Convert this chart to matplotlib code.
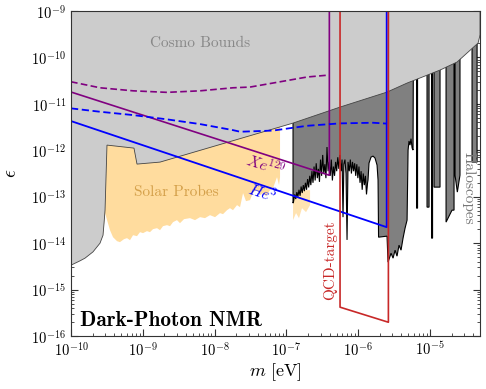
import numpy as np
import matplotlib
matplotlib.use('Agg')
import matplotlib.pyplot as plt
from matplotlib.ticker import LogLocator, FixedLocator, FuncFormatter, NullFormatter

plt.rcParams.update({
    'font.family': 'serif',
    'font.serif': ['cmr10'],
    'mathtext.fontset': 'cm',
    'axes.unicode_minus': False,
    'axes.formatter.use_mathtext': True,
})

# ---------------- data (log10 m [eV], log10 eps) ----------------
cosmo_logm = [-10.0, -10.0, -9.875, -9.805, -9.694, -9.596, -9.554, -9.540, -9.526,
              -9.499, -9.123, -9.081, -8.760, -6.908, -6.253, -5.599, -5.320,
              -4.861, -4.624, -4.485, -4.331, -4.304, -4.304]
cosmo_logeps = [-9.0, -14.474, -14.381, -14.323, -14.188, -14.0, -13.828, -13.569, -13.289,
                -11.888, -11.953, -12.297, -12.254, -11.414, -11.069, -10.746, -10.552,
                -10.272, -10.099, -9.905, -9.690, -9.517, -9.0]

solar_logm = [-9.554, -9.513, -7.089, -7.089, -7.103, -7.131, -7.187, -7.228, -7.284,
              -7.326, -7.368, -7.409, -7.465, -7.507, -7.563, -7.604, -7.646, -7.688,
              -7.744, -7.786, -7.827, -7.883, -7.925, -7.994, -8.064, -8.134, -8.203,
              -8.273, -8.343, -8.426, -8.482, -8.524, -8.579, -8.621, -8.663, -8.719,
              -8.760, -8.802, -8.858, -8.900, -8.942, -8.997, -9.039, -9.081, -9.136,
              -9.178, -9.220, -9.262, -9.318, -9.359, -9.415, -9.457, -9.526]
solar_logeps = [-13.849, -11.780, -10.918, -12.578, -12.750, -12.578, -12.815, -12.858, -12.987,
                -12.922, -12.966, -12.858, -12.901, -13.073, -13.095, -12.922, -13.224, -13.181,
                -13.289, -13.246, -13.289, -13.375, -13.353, -13.440, -13.397, -13.461, -13.440,
                -13.504, -13.461, -13.483, -13.569, -13.504, -13.547, -13.634, -13.612, -13.634,
                -13.720, -13.677, -13.698, -13.763, -13.741, -13.784, -13.763, -13.849, -13.828,
                -13.935, -13.892, -13.914, -13.978, -13.957, -13.871, -13.720, -13.353]

solar2_logm = [-6.908, -6.671, -6.671, -6.727, -6.783, -6.825, -6.866, -6.908]
solar2_logeps = [-12.858, -12.858, -13.181, -13.332, -13.246, -13.461, -13.353, -13.504]

halo_logm = [-6.908, -6.908,
             -6.900, -6.885, -6.870, -6.855, -6.840, -6.825, -6.810, -6.795, -6.780, -6.765,
             -6.750, -6.735, -6.720, -6.705, -6.690, -6.675, -6.660, -6.645, -6.630, -6.615,
             -6.600, -6.585, -6.570, -6.555, -6.540, -6.525, -6.510, -6.495, -6.480, -6.465,
             -6.450, -6.435, -6.420, -6.405, -6.390, -6.375, -6.360, -6.345, -6.330, -6.315,
             -6.300, -6.285, -6.270, -6.255, -6.240, -6.225, -6.212, -6.200, -6.185, -6.170,
             -6.156, -6.142, -6.125, -6.110, -6.095, -6.080, -6.065, -6.050, -6.035, -6.020,
             -6.005, -5.990, -5.975, -5.960, -5.945, -5.930, -5.915, -5.900, -5.885, -5.870,
             -5.864, -5.850, -5.822, -5.794, -5.766, -5.738, -5.724, -5.717, -5.599,
             -5.585, -5.543, -5.515, -5.487, -5.460, -5.432, -5.404, -5.376, -5.348,
             -5.320, -5.306, -5.293, -5.279, -5.265, -5.250, -5.237, -5.230,
             -5.188, -5.188, -5.174, -5.174,
             -5.042, -5.042, -5.014, -5.014,
             -4.979, -4.979, -4.965, -4.965,
             -4.944, -4.944, -4.861, -4.861,
             -4.777, -4.777, -4.694, -4.666, -4.666,
             -4.652, -4.652, -4.620, -4.583, -4.583,
             -4.415, -4.415, -4.345, -4.345, -4.304]
halo_logeps = [-9.0, -13.138,
               -13.10, -12.95, -13.05, -12.90, -13.00, -12.85, -12.98, -12.78, -12.92, -12.75,
               -12.88, -12.70, -12.85, -12.62, -12.80, -12.55, -12.75, -12.45, -12.70, -12.35,
               -12.65, -12.28, -12.60, -12.40, -12.68, -12.20, -12.55, -12.10, -12.50, -12.30,
               -12.60, -11.93, -12.45, -12.25, -12.55, -12.20, -12.65, -12.35, -12.55, -12.25,
               -12.45, -12.15, -12.40, -12.10, -12.45, -12.20, -13.44, -12.30, -12.20, -12.50,
               -13.93, -12.25, -12.45, -12.20, -12.50, -12.25, -12.45, -12.28, -12.55, -12.30,
               -12.60, -12.35, -12.70, -12.45, -12.85, -12.50, -12.75, -12.55, -12.95, -12.70,
               -12.642, -12.276, -12.147, -12.125, -12.168, -12.319, -12.642, -13.871, -13.849,
               -14.409, -14.216, -14.323, -14.151, -14.280, -14.043, -14.151, -13.892, -13.677,
               -13.504, -11.996, -11.80, -11.888, -11.75, -11.95, -11.996, -9.0,
               -9.0, -13.246, -13.246, -9.0,
               -9.0, -13.224, -13.224, -9.0,
               -9.0, -13.892, -13.892, -9.0,
               -9.0, -12.793, -12.793, -9.0,
               -9.0, -13.547, -13.289, -13.289, -9.0,
               -9.0, -12.534, -12.900, -12.534, -9.0,
               -9.0, -12.254, -12.254, -9.0, -9.0]

# projected sensitivities
xe_m = [1e-10, 3.96e-7, 3.96e-7]
xe_eps = [1.8e-11, 2.9e-13, 1e-9]
xe_dash_m = [1e-10, 2.54e-10, 7.31e-10, 2.17e-9, 6.27e-9, 1.80e-8, 3.11e-8, 6.50e-8, 1.94e-7, 3.96e-7]
xe_dash_eps = [2.99e-11, 2.22e-11, 1.91e-11, 1.77e-11, 1.91e-11, 2.22e-11, 2.30e-11, 2.81e-11, 3.79e-11, 4.18e-11]

he_m = [1e-10, 2.49e-6, 2.49e-6]
he_eps = [4.26e-12, 2.21e-14, 1e-9]
he_dash_m = [1e-10, 2.54e-10, 7.31e-10, 2.17e-9, 6.27e-9, 1.80e-8, 2.26e-8, 6.50e-8, 1.94e-7, 5.58e-7, 1.61e-6, 2.49e-6]
he_dash_eps = [8.0e-12, 6.76e-12, 5.74e-12, 4.64e-12, 3.67e-12, 2.72e-12, 2.51e-12, 2.66e-12, 3.37e-12, 3.80e-12, 3.92e-12, 3.76e-12]

qcd_m = [5.58e-7, 5.58e-7, 2.63e-6, 2.63e-6]
qcd_eps = [1e-9, 4.18e-16, 1.98e-16, 1e-9]

x_ticks = [1e-10, 1e-9, 1e-8, 1e-7, 1e-6, 1e-5]
y_ticks = [1e-16, 1e-15, 1e-14, 1e-13, 1e-12, 1e-11, 1e-10, 1e-9]

# ---------------- figure ----------------
fig = plt.figure(figsize=(4.86, 3.89), dpi=100)
ax = fig.add_axes([0.1461, 0.1362, 0.8416, 0.8355])
ax.set_xscale('log')
ax.set_yscale('log')

p = lambda a: 10.0 ** np.asarray(a)

ax.fill(p(solar_logm), p(solar_logeps), facecolor='#FFDC9E', edgecolor='none', zorder=1)
ax.fill(p(solar2_logm), p(solar2_logeps), facecolor='#FFDC9E', edgecolor='none', alpha=0.8, zorder=1)
ax.fill(p(halo_logm), p(halo_logeps), facecolor='#808080', edgecolor='black', lw=0.8, zorder=2)
ax.fill(p(cosmo_logm), p(cosmo_logeps), facecolor='#CCCCCC', edgecolor='#444444', lw=0.6, zorder=3)

ax.plot(xe_m, xe_eps, color='#800080', lw=1.2, zorder=5)
ax.plot(xe_dash_m, xe_dash_eps, color='#800080', lw=1.2, ls=(0, (4, 2)), zorder=5)
ax.plot(he_m, he_eps, color='#0000FF', lw=1.3, zorder=5)
ax.plot(he_dash_m, he_dash_eps, color='#0000FF', lw=1.3, ls=(0, (4, 2)), zorder=5)
ax.plot(qcd_m, qcd_eps, color='#C82828', lw=1.2, zorder=5)

ax.set_xlim(1e-10, 10 ** -4.304)
ax.set_ylim(1e-16, 1e-9)

# labels
ax.text(6.2e-9, 2.0e-10, 'Cosmo Bounds', color='#888888', fontsize=11,
        ha='center', va='center', zorder=6)
ax.text(2.9e-9, 1.26e-13, 'Solar Probes', color='#D4A04A', fontsize=11,
        ha='center', va='center', zorder=6)
ax.text(3.45e-5, 1.53e-13, 'Haloscopes', color='#777777', fontsize=11,
        ha='center', va='center', rotation=-90, zorder=6)
ax.text(4.05e-7, 4.3e-15, 'QCD-target', color='#C82828', fontsize=11,
        ha='center', va='center', rotation=90, zorder=6)
ax.text(5.2e-8, 4.7e-13, r'$Xe^{129}$', color='#800080', fontsize=11.5,
        ha='center', va='center', rotation=-18, rotation_mode='anchor', zorder=6)
ax.text(4.6e-8, 1.25e-13, r'$He^{3}$', color='#0000FF', fontsize=11.5,
        ha='center', va='center', rotation=-18, rotation_mode='anchor', zorder=6)
ax.text(0.022, 0.049, 'Dark-Photon NMR', family='cmb10', fontsize=15.3,
        ha='left', va='center', transform=ax.transAxes, zorder=6)

ax.set_xlabel(r'$m\ [\mathrm{eV}]$', fontsize=13, labelpad=2)
ax.set_ylabel(r'$\epsilon$', fontsize=14, labelpad=8)

fmt = FuncFormatter(lambda v, pos: r'$10^{%d}$' % int(round(np.log10(v))))
ax.xaxis.set_major_locator(FixedLocator(x_ticks))
ax.yaxis.set_major_locator(FixedLocator(y_ticks))
ax.xaxis.set_minor_locator(LogLocator(base=10, subs=np.arange(2, 10), numticks=50))
ax.yaxis.set_minor_locator(LogLocator(base=10, subs=np.arange(2, 10), numticks=50))
ax.xaxis.set_major_formatter(fmt)
ax.yaxis.set_major_formatter(fmt)
ax.xaxis.set_minor_formatter(NullFormatter())
ax.yaxis.set_minor_formatter(NullFormatter())
ax.tick_params(which='both', direction='in', top=True, right=True, labelsize=10.5, color='#333333')
ax.tick_params(which='major', length=5, width=0.8)
ax.tick_params(which='minor', length=2.5, width=0.6)
for s in ax.spines.values():
    s.set_zorder(7)
    s.set_color('#333333')

fig.savefig('out.png', dpi=100)
